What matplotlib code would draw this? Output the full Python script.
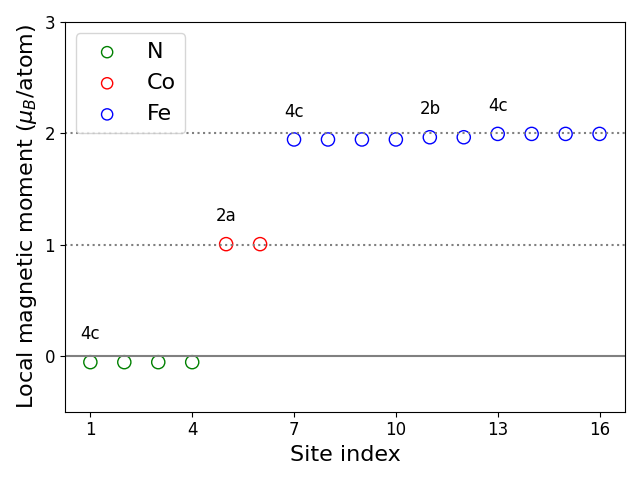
import matplotlib
matplotlib.use("Agg")
import matplotlib.pyplot as plt

n_sites = [1, 2, 3, 4]
n_moments = [-0.055, -0.055, -0.055, -0.055]
co_sites = [5, 6]
co_moments = [1.005, 1.005]
fe_sites = [7, 8, 9, 10, 11, 12, 13, 14, 15, 16]
fe_moments = [1.945, 1.945, 1.945, 1.945, 1.965, 1.965, 1.995, 1.995, 1.995, 1.995]

label_sites = [1, 5, 7, 11, 13]
label_values = [-0.055, 1.005, 1.945, 1.965, 1.995]
label_texts = ["4c", "2a", "4c", "2b", "4c"]

xticks = [1, 4, 7, 10, 13, 16]
yticks = [0, 1, 2, 3]

fig, ax = plt.subplots(figsize=(6.4, 4.8), dpi=100)
ax.axhline(0, color="gray", lw=1.5)
ax.axhline(1, color="gray", ls=":", lw=1.5)
ax.axhline(2, color="gray", ls=":", lw=1.5)

ax.scatter(n_sites, n_moments, s=90, facecolors="none", edgecolors="green", label="N")
ax.scatter(co_sites, co_moments, s=90, facecolors="none", edgecolors="red", label="Co")
ax.scatter(fe_sites, fe_moments, s=90, facecolors="none", edgecolors="blue", label="Fe")

for xs, v, t in zip(label_sites, label_values, label_texts):
    ax.text(xs, v + 0.25, t, ha="center", va="center", fontsize=12)

ax.set_xticks(xticks)
ax.set_yticks(yticks)
ax.set_xlim(0.25, 16.75)
ax.set_ylim(-0.5, 3)
ax.tick_params(labelsize=12)
ax.set_xlabel("Site index", fontsize=16)
ax.set_ylabel(r"Local magnetic moment ($\mu_B$/atom)", fontsize=16)
ax.legend(loc="upper left", fontsize=16, markerscale=0.85)
fig.tight_layout()
fig.savefig("out.png", dpi=100)
